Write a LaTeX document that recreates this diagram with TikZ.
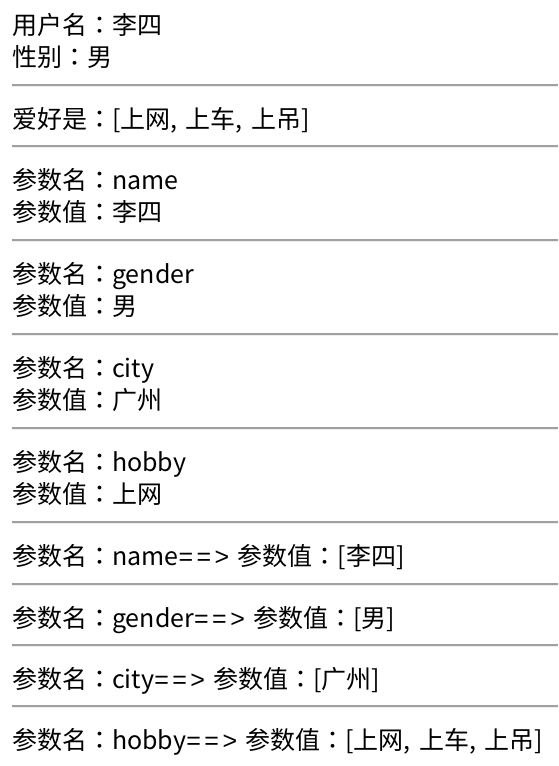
\documentclass[tikz,border=0pt]{standalone}
\usepackage{fontspec}
\setmainfont{Noto Sans CJK SC}[WordSpace=1.5]
\newfontfamily\tcfont{Noto Sans CJK TC}
\newfontfamily\signfont{Liberation Sans}
\newcommand\zc{{\tcfont ：}}
\newcommand\darrow{{\signfont ={\kern3.5pt}={\kern3.5pt}>}}
\definecolor{rulegray}{HTML}{A0A0A0}
\definecolor{rulelight}{HTML}{EEEEEE}

\begin{document}
\begin{tikzpicture}[x=1pt, y=-1pt,
    line/.style={anchor=base west, inner sep=0pt, font=\fontsize{25}{25}\selectfont},
    hrule/.style={draw=rulegray, line width=2pt},
    hshade/.style={draw=rulelight, line width=1pt}]
    \useasboundingbox (0, 0) rectangle (558, 766);
    % Texts:
    \node[line] (user) at (12, 34){用户名\zc 李四};
    \node[line] (sex) at (12, 66){性别\zc 男};
    \node[line] (hobbies) at (12, 128){爱好是\zc [上网, 上车, 上吊]};
    \node[line] (pname) at (12, 189){参数名\zc name};
    \node[line] (pvname) at (12, 221){参数值\zc 李四};
    \node[line] (pgender) at (12, 283){参数名\zc gender};
    \node[line] (pvgender) at (12, 315){参数值\zc 男};
    \node[line] (pcity) at (12, 377){参数名\zc city};
    \node[line] (pvcity) at (12, 409){参数值\zc 广州};
    \node[line] (phobby) at (12, 471){参数名\zc hobby};
    \node[line] (pvhobby) at (12, 503){参数值\zc 上网};
    \node[line] (mname) at (12, 565){参数名\zc name\darrow{} 参数值\zc [李四]};
    \node[line] (mgender) at (12, 627){参数名\zc gender\darrow{} 参数值\zc [男]};
    \node[line] (mcity) at (12, 688){参数名\zc city\darrow{} 参数值\zc [广州]};
    \node[line] (mhobby) at (12, 749){参数名\zc hobby\darrow{} 参数值\zc [上网, 上车, 上吊]};
    % Rules:
    \draw[hrule] (12, 85) -- (558, 85);
    \draw[hshade] (12, 86.5) -- (558, 86.5);
    \draw[hrule] (12, 146) -- (558, 146);
    \draw[hshade] (12, 147.5) -- (558, 147.5);
    \draw[hrule] (12, 240) -- (558, 240);
    \draw[hshade] (12, 241.5) -- (558, 241.5);
    \draw[hrule] (12, 334) -- (558, 334);
    \draw[hshade] (12, 335.5) -- (558, 335.5);
    \draw[hrule] (12, 428) -- (558, 428);
    \draw[hshade] (12, 429.5) -- (558, 429.5);
    \draw[hrule] (12, 522) -- (558, 522);
    \draw[hshade] (12, 523.5) -- (558, 523.5);
    \draw[hrule] (12, 584) -- (558, 584);
    \draw[hshade] (12, 585.5) -- (558, 585.5);
    \draw[hrule] (12, 645) -- (558, 645);
    \draw[hshade] (12, 646.5) -- (558, 646.5);
    \draw[hrule] (12, 706) -- (558, 706);
    \draw[hshade] (12, 707.5) -- (558, 707.5);
\end{tikzpicture}
\end{document}
